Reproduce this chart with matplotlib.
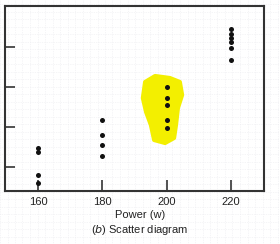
#!/usr/bin/env python3

import matplotlib
matplotlib.use("Agg")
import matplotlib.pyplot as plt
import numpy as np
from matplotlib.patches import Polygon
from matplotlib.lines import Line2D

plt.rcParams['font.family'] = ['Liberation Sans Narrow', 'Liberation Sans', 'DejaVu Sans']
plt.rcParams['mathtext.fontset'] = 'custom'
plt.rcParams['mathtext.it'] = 'Liberation Sans Narrow:italic'
plt.rcParams['mathtext.rm'] = 'Liberation Sans Narrow'

# power settings (w) and the measured response at each one
power_160 = [1.48, 1.38, 0.80, 0.60]
power_180 = [2.175, 1.80, 1.55, 1.275]
power_200 = [3.00, 2.725, 2.55, 2.175, 1.975]
power_220 = [4.45, 4.325, 4.225, 4.125, 3.975, 3.675]

powers = [160, 180, 200, 220]
responses = [power_160, power_180, power_200, power_220]

x_ticks = [160, 180, 200, 220]
y_ticks = [1, 2, 3, 4]

# outline of the yellow marker highlight around the 200 w group
highlight_x = [193.3, 196.4, 201.0, 204.1, 204.8, 203.5, 202.9, 202.3,
               199.5, 196.1, 195.1, 193.6, 192.6]
highlight_y = [3.125, 3.275, 3.225, 3.125, 2.8, 2.475, 2.05, 1.725,
               1.6, 1.675, 2.05, 2.375, 2.725]


def main():
    fig = plt.figure(figsize=(2.8, 2.44), dpi=100)
    fig.patch.set_facecolor('white')

    # faint graph-paper look of the scan
    for gx in np.arange(0.0, 1.0, 7.5 / 280):
        fig.add_artist(Line2D([gx, gx], [0, 1], color='#ececf0', lw=0.5,
                              ls=(0, (1, 1.5)), zorder=0))
    for gy in np.arange(0.0, 1.0, 7.5 / 244):
        fig.add_artist(Line2D([0, 1], [gy, gy], color='#ececf0', lw=0.5,
                              ls=(0, (1, 1.5)), zorder=0))

    ax = fig.add_axes([5 / 280, 53 / 244, 259 / 280, 185 / 244])
    ax.patch.set_alpha(0)

    ax.add_patch(Polygon(np.column_stack([highlight_x, highlight_y]),
                         closed=True, facecolor='#f3ef00', edgecolor='#f3ef00',
                         lw=3, joinstyle='round', zorder=1))

    for p, vals in zip(powers, responses):
        ax.scatter([p] * len(vals), vals, s=13, color='#111111',
                   linewidths=0, zorder=3)

    ax.set_xlim(149.74, 230.26)
    ax.set_ylim(0.4, 5.025)
    ax.set_xticks(x_ticks)
    ax.set_yticks(y_ticks)
    ax.set_yticklabels([])
    ax.tick_params(axis='x', direction='in', length=8, width=1.2,
                   color='#333333', labelsize=8, labelcolor='#222222', pad=4)
    ax.tick_params(axis='y', direction='in', length=7, width=1.2,
                   color='#333333')
    for s in ax.spines.values():
        s.set_color('#333333')
        s.set_linewidth(1.5)

    fig.text(0.5, 1 - 215 / 244, "Power (w)", ha='center', va='center',
             fontsize=8, color='#222222')
    fig.text(0.5, 1 - 230 / 244, r"($\it{b}$) Scatter diagram", ha='center',
             va='center', fontsize=8, color='#222222')

    fig.savefig("out.png", dpi=100)


if __name__ == '__main__':
    main()
